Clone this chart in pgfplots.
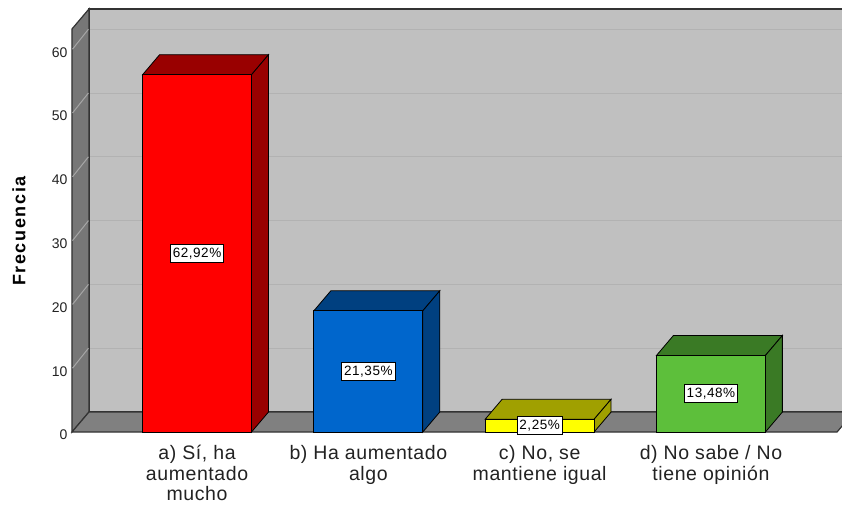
\documentclass[border=0pt]{standalone}
\usepackage{fontspec}
\setmainfont{Liberation Sans}
\newfontfamily\catfont[LetterSpace=3]{Liberation Sans}
\newfontfamily\pctfont[LetterSpace=4]{Liberation Sans}
\newfontfamily\ylabfont[LetterSpace=9]{Liberation Sans}
\usepackage{pgfplots}
\pgfplotsset{compat=1.18}
\usepackage{pgfplotstable}

% colores estilo SPSS
\definecolor{backwall}{HTML}{C0C0C0}
\definecolor{sidewall}{HTML}{777777}
\definecolor{floorc}{HTML}{808080}
\definecolor{gridback}{HTML}{B2B2B2}
\definecolor{gridside}{HTML}{A6A6A6}
\definecolor{edgec}{HTML}{333333}
\definecolor{txt}{HTML}{222222}
\definecolor{rojo}{HTML}{FF0000}\definecolor{rojoD}{HTML}{990000}
\definecolor{azul}{HTML}{0066CC}\definecolor{azulD}{HTML}{004080}
\definecolor{amar}{HTML}{FFFF00}\definecolor{amarD}{HTML}{A0A000}
\definecolor{verde}{HTML}{5DBF3B}\definecolor{verdeD}{HTML}{3A7A25}

% frecuencias (N = 89)
\pgfplotstableread{
x v lab
0 56 62,92
1 19 21,35
2 2 2,25
3 12 13,48
}\datos

\begin{document}
\begin{tikzpicture}
\begin{axis}[
  width=770bp, height=423bp, scale only axis,
  xmin=-0.730, xmax=3.765, ymin=0, ymax=66.3,
  clip=false,
  axis line style={draw=none},
  major tick length=0pt,
  ytick={0,10,20,30,40,50,60},
  xtick={0,1,2,3},
  xticklabels={{a) Sí, ha\\aumentado\\mucho},{b) Ha aumentado\\algo},{c) No, se\\mantiene igual},{d) No sabe / No\\tiene opinión}},
  xticklabel style={align=center, text=txt, font=\catfont\fontsize{19.5bp}{20.5bp}\selectfont, yshift=-10bp},
  yticklabel style={text=txt, font=\fontsize{14bp}{16bp}\selectfont, yshift=-3bp, xshift=-1bp},
  /pgf/number format/assume math mode=true,
  ylabel={Frecuencia},
  ylabel style={at={(axis description cs:-0.0688,0.475)}, anchor=center, text=black,
    font=\ylabfont\bfseries\fontsize{18bp}{20bp}\selectfont},
]
% paredes y piso
\addplot[fill=backwall, draw=edgec, line width=1.2bp] coordinates {(-0.631,3.13) (3.9,3.13) (3.9,66.3) (-0.631,66.3)} --cycle;
\addplot[fill=sidewall, draw=edgec, line width=1.2bp] coordinates {(-0.730,0) (-0.730,63.17) (-0.631,66.3) (-0.631,3.13)} --cycle;
\addplot[fill=floorc, draw=edgec, line width=1.2bp] coordinates {(-0.730,0) (3.736,0) (3.835,3.13) (-0.631,3.13)} --cycle;
% lineas de rejilla
\addplot[gridback, line width=1bp] coordinates {(-0.625,13.13) (3.9,13.13)};
\addplot[gridback, line width=1bp] coordinates {(-0.625,23.13) (3.9,23.13)};
\addplot[gridback, line width=1bp] coordinates {(-0.625,33.13) (3.9,33.13)};
\addplot[gridback, line width=1bp] coordinates {(-0.625,43.13) (3.9,43.13)};
\addplot[gridback, line width=1bp] coordinates {(-0.625,53.13) (3.9,53.13)};
\addplot[gridback, line width=1bp] coordinates {(-0.625,63.13) (3.9,63.13)};
\addplot[gridside, line width=1bp] coordinates {(-0.727,10) (-0.634,13.13)};
\addplot[gridside, line width=1bp] coordinates {(-0.727,20) (-0.634,23.13)};
\addplot[gridside, line width=1bp] coordinates {(-0.727,30) (-0.634,33.13)};
\addplot[gridside, line width=1bp] coordinates {(-0.727,40) (-0.634,43.13)};
\addplot[gridside, line width=1bp] coordinates {(-0.727,50) (-0.634,53.13)};
\addplot[gridside, line width=1bp] coordinates {(-0.727,60) (-0.634,63.13)};
% a) 56
\addplot[fill=rojoD, draw=black, line width=0.8bp] coordinates {(-0.318,56) (0.318,56) (0.417,59.13) (-0.219,59.13)} --cycle;
\addplot[fill=rojoD, draw=black, line width=0.8bp] coordinates {(0.318,0) (0.318,56) (0.417,59.13) (0.417,3.13)} --cycle;
\addplot[ybar, bar width=0.636, bar shift=0pt, fill=rojo, draw=black, line width=0.8bp] coordinates {(0,56)};
% b) 19
\addplot[fill=azulD, draw=black, line width=0.8bp] coordinates {(0.682,19) (1.318,19) (1.417,22.13) (0.781,22.13)} --cycle;
\addplot[fill=azulD, draw=black, line width=0.8bp] coordinates {(1.318,0) (1.318,19) (1.417,22.13) (1.417,3.13)} --cycle;
\addplot[ybar, bar width=0.636, bar shift=0pt, fill=azul, draw=black, line width=0.8bp] coordinates {(1,19)};
% c) 2
\addplot[fill=amarD, draw=black, line width=0.8bp] coordinates {(1.682,2) (2.318,2) (2.417,5.13) (1.781,5.13)} --cycle;
\addplot[fill=amarD, draw=black, line width=0.8bp] coordinates {(2.318,0) (2.318,2) (2.417,5.13) (2.417,3.13)} --cycle;
\addplot[ybar, bar width=0.636, bar shift=0pt, fill=amar, draw=black, line width=0.8bp] coordinates {(2,2)};
% d) 12
\addplot[fill=verdeD, draw=black, line width=0.8bp] coordinates {(2.682,12) (3.318,12) (3.417,15.13) (2.781,15.13)} --cycle;
\addplot[fill=verdeD, draw=black, line width=0.8bp] coordinates {(3.318,0) (3.318,12) (3.417,15.13) (3.417,3.13)} --cycle;
\addplot[ybar, bar width=0.636, bar shift=0pt, fill=verde, draw=black, line width=0.8bp] coordinates {(3,12)};
% porcentajes
\addplot[draw=none, mark=none, point meta=explicit symbolic,
  nodes near coords={\pgfplotspointmeta\%},
  every node near coord/.style={anchor=center, fill=white, draw=black, line width=0.6bp,
    inner xsep=2.5bp, inner ysep=3.5bp, text=black, font=\pctfont\fontsize{13.5bp}{15bp}\selectfont}]
  table[x=x, y expr=\thisrow{v}/2, meta=lab]{\datos};
\coordinate (bl) at (rel axis cs:0,0);
\coordinate (tr) at (rel axis cs:1,1);
\end{axis}
\pgfresetboundingbox
\path ([shift={(-72bp,-74bp)}]bl) rectangle ([yshift=9bp]tr);
\end{tikzpicture}
\end{document}
